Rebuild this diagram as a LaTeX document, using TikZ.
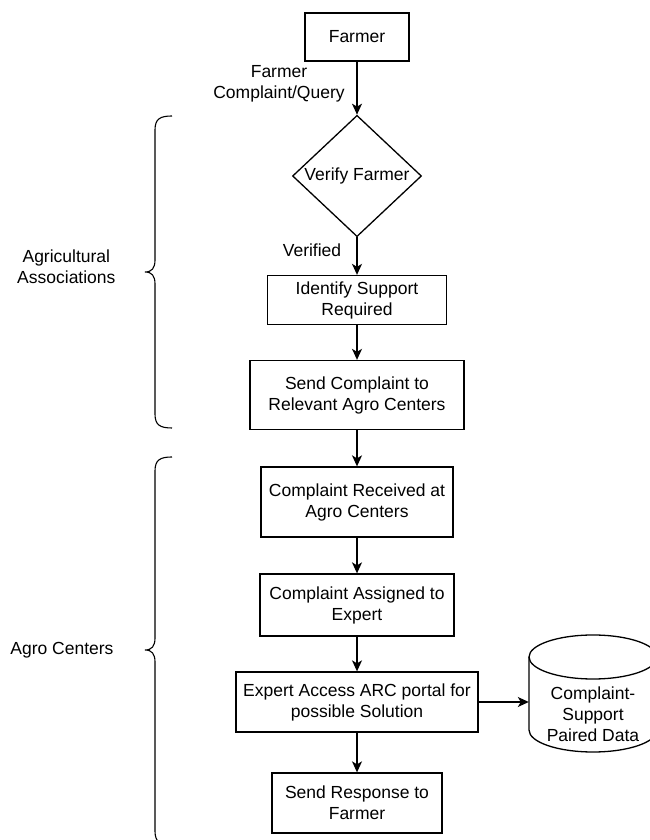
\documentclass[tikz,border=0pt]{standalone}
\usepackage{fontspec}
\setmainfont{Liberation Sans}
\usetikzlibrary{arrows.meta, positioning, shapes.geometric}

\begin{document}
\begin{tikzpicture}[x=1pt, y=1pt,
    every node/.style={font=\fontsize{17.5}{21}\selectfont, align=center},
    box/.style={draw, line width=1.3pt, inner sep=2pt},
    decision/.style={draw, diamond, line width=1.3pt, inner sep=0pt, minimum width=129pt, minimum height=118pt},
    flow/.style={line width=1.3pt, -{Stealth[length=11pt, width=10pt, inset=3pt]}},
    brace/.style={line width=1.1pt}]
    \useasboundingbox (0,0) rectangle (649,840);

    % Steps, top to bottom
    \node[box, minimum width=104pt, minimum height=48pt] (farmer) at (357,803) {Farmer};
    \node[decision] (verify) at (357,664) {Verify Farmer};
    \node[box, minimum width=179pt, minimum height=49pt] (identify) at (357,540) {Identify Support\\Required};
    \node[box, minimum width=214pt, minimum height=69pt] (send) at (357,445) {Send Complaint to\\Relevant Agro Centers};
    \node[box, minimum width=192pt, minimum height=70pt] (received) at (357,338) {Complaint Received at\\Agro Centers};
    \node[box, minimum width=194pt, minimum height=62pt] (assigned) at (357,235) {Complaint Assigned to\\Expert};
    \node[box, minimum width=242pt, minimum height=60pt] (expert) at (357,138) {Expert Access ARC portal for\\possible Solution};
    \node[box, minimum width=170pt, minimum height=60pt] (response) at (357,37) {Send Response to\\Farmer};

    % Data store (cylinder drawn by hand)
    \node[minimum width=128pt, inner sep=0pt] (data) at (593,126) {Complaint-\\Support\\Paired Data};
    \draw[line width=1.3pt] (529,183) -- (529,110) arc[start angle=180, end angle=360, x radius=64pt, y radius=22pt] -- (657,183);
    \draw[line width=1.3pt] (593,183) ellipse[x radius=64pt, y radius=22pt];

    % Edge labels
    \node (query) at (279,756) {Farmer\\Complaint/Query};
    \node (verified) at (312,590) {Verified};

    % Connectors
    \draw[flow] (farmer) -- (verify);
    \draw[flow] (verify) -- (identify);
    \draw[flow] (identify) -- (send);
    \draw[flow] (send) -- (received);
    \draw[flow] (received) -- (assigned);
    \draw[flow] (assigned) -- (expert);
    \draw[flow] (expert) -- (response);
    \draw[flow] (expert.east) -- (expert.east -| data.west);

    % Braces and group names
    \draw[brace] (172,724) .. controls (160,724) and (155,721) .. (155,710) -- (155,580)
        .. controls (155,572) and (152,568) .. (145,568) .. controls (152,568) and (155,564) .. (155,556)
        -- (155,426) .. controls (155,415) and (160,412) .. (172,412);
    \node[anchor=east] (assoc) at (119,573) {Agricultural\\Associations};

    \draw[brace] (172,383) .. controls (160,383) and (155,380) .. (155,369) -- (155,202)
        .. controls (155,194) and (152,190) .. (145,190) .. controls (152,190) and (155,186) .. (155,178)
        -- (155,9) .. controls (155,-2) and (160,-5) .. (172,-5);
    \node[anchor=east] (centers) at (117,190) {Agro Centers};
\end{tikzpicture}
\end{document}
